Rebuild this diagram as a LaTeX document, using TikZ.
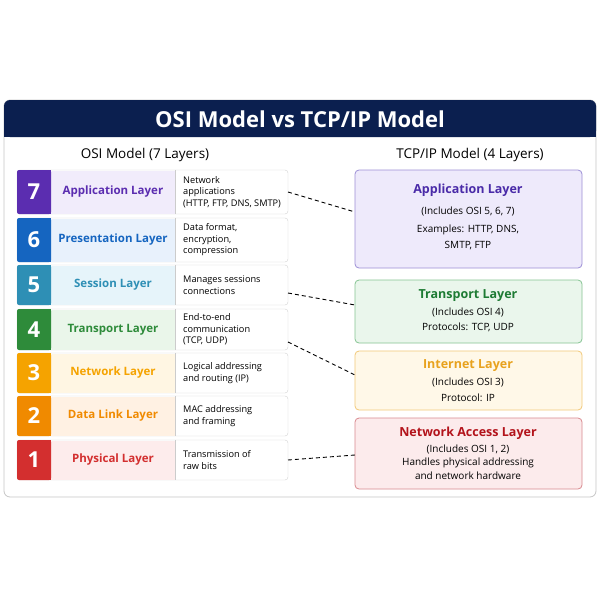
\documentclass[tikz,border=0pt]{standalone}
\usepackage{fontspec}
\setmainfont{Open Sans}
\begin{document}
\begin{tikzpicture}[x=1pt,y=-1pt,
 num/.style={font=\bfseries\fontsize{22}{22}\selectfont,text=white},
 rbox/.style={rounded corners=4pt,line width=0.8pt},
 conn/.style={line width=0.9pt,dash pattern=on 4pt off 3pt},
 rt/.style={font=\fontsize{10}{13}\selectfont,align=center}]
\useasboundingbox (0,0) rectangle (600,600);
\definecolor{navy}{HTML}{0B1F4F}
% panel
\draw[gray!45,fill=white,rounded corners=6pt,line width=0.8pt] (4,100) rectangle (596,497);
\fill[navy,rounded corners=6pt] (4,100) rectangle (596,137);
\fill[navy] (4,125) rectangle (596,137);
\node[text=white,font=\bfseries\fontsize{22}{22}\selectfont] (title) at (300,119) {OSI Model vs TCP/IP Model};
\node[font=\fontsize{13.5}{15}\selectfont] (lh) at (145,155) {OSI Model (7 Layers)};
\node[font=\fontsize{13.5}{15}\selectfont] (rh) at (470,155) {TCP/IP Model (4 Layers)};
% rows
\foreach \n/\ya/\yb/\c/\l/\name/\d in {
 7/170/214/5B2DB0/F1ECFB/Application Layer/{Network\\applications\\(HTTP, FTP, DNS, SMTP)},
 6/218/262/1565C0/E8F1FC/Presentation Layer/{Data format,\\encryption,\\compression},
 5/265/305/2E8FB5/E6F4FA/Session Layer/{Manages sessions\\connections},
 4/309/350/2E8B3A/EAF6EA/Transport Layer/{End-to-end\\communication\\(TCP, UDP)},
 3/353/393/F5A300/FFF6E3/Network Layer/{Logical addressing\\and routing (IP)},
 2/396/436/F08A00/FFF1E3/Data Link Layer/{MAC addressing\\and framing},
 1/440/480/D32F2F/FDECEC/Physical Layer/{Transmission of\\raw bits}}{
 \definecolor{cc}{HTML}{\c}\definecolor{ll}{HTML}{\l}
 \draw[gray!35,fill=white,rounded corners=3pt] (17,\ya) rectangle (288,\yb);
 \fill[ll] (51,\ya+0.5) rectangle (175,\yb-0.5);
 \fill[cc,rounded corners=2pt] (17,\ya) rectangle (51,\yb);
 \fill[cc] (40,\ya) rectangle (51,\yb);
 \draw[gray!40] (175,\ya) -- (175,\yb);
 \node[num] (n\n) at (34,{(\ya+\yb)/2}) {\n};
 \node[text=cc,font=\fontsize{11.5}{13}\selectfont\bfseries] (l\n) at (113,{(\ya+\yb)/2}) {\name};
 \node[anchor=west,align=left,font=\fontsize{9.2}{11.5}\selectfont,inner xsep=0pt] (d\n) at (183,{(\ya+\yb)/2}) {\d};
 \coordinate (e\n) at (288,{(\ya+\yb)/2});
}
% right boxes
\definecolor{a1}{HTML}{EEEAFB}\definecolor{a2}{HTML}{9C8FD6}\definecolor{a3}{HTML}{4A2BA8}
\definecolor{t1}{HTML}{EAF6EC}\definecolor{t2}{HTML}{86C493}\definecolor{t3}{HTML}{1E7B34}
\definecolor{i1}{HTML}{FFF8E8}\definecolor{i2}{HTML}{F2C979}\definecolor{i3}{HTML}{E8A21E}
\definecolor{n1}{HTML}{FCEBEC}\definecolor{n2}{HTML}{D98A8F}\definecolor{n3}{HTML}{B3131B}
\draw[rbox,fill=a1,draw=a2] (355,170) rectangle (582,268);
\draw[rbox,fill=t1,draw=t2] (355,280) rectangle (582,343);
\draw[rbox,fill=i1,draw=i2] (355,351) rectangle (582,410);
\draw[rbox,fill=n1,draw=n2] (355,418) rectangle (582,489);
\coordinate (ra) at (355,212);\coordinate (rt) at (355,305);
\coordinate (ri) at (355,375);\coordinate (rn) at (355,455);
\node[text=a3,font=\bfseries\fontsize{12.5}{14}\selectfont] (at) at (468,190) {Application Layer};
\node[rt] (a2t) at (468,211) {(Includes OSI 5, 6, 7)};
\node[rt,font=\fontsize{10}{16}\selectfont] (a3t) at (468,237) {Examples: HTTP, DNS,\\SMTP, FTP};
\node[text=t3,font=\bfseries\fontsize{12.5}{14}\selectfont] (tt) at (468,296) {Transport Layer};
\node[rt,font=\fontsize{10}{15.5}\selectfont] (t2t) at (468,320) {(Includes OSI 4)\\Protocols: TCP, UDP};
\node[text=i3,font=\bfseries\fontsize{12.5}{14}\selectfont] (it) at (468,366) {Internet Layer};
\node[rt,font=\fontsize{10}{15.5}\selectfont] (i2t) at (468,390) {(Includes OSI 3)\\Protocol: IP};
\node[text=n3,font=\bfseries\fontsize{12.5}{14}\selectfont] (nt) at (468,433) {Network Access Layer};
\node[rt,font=\fontsize{10}{13.5}\selectfont] (n2t) at (468,462) {(Includes OSI 1, 2)\\Handles physical addressing\\and network hardware};
% connectors
\coordinate (s7) at (288,192);\coordinate (s5) at (288,293);\coordinate (s4) at (288,342);
\draw[conn] (s7) -- (ra);
\draw[conn] (s5) -- (rt);
\draw[conn] (s4) -- (ri);
\draw[conn] (e1) -- (rn);
\end{tikzpicture}
\end{document}
